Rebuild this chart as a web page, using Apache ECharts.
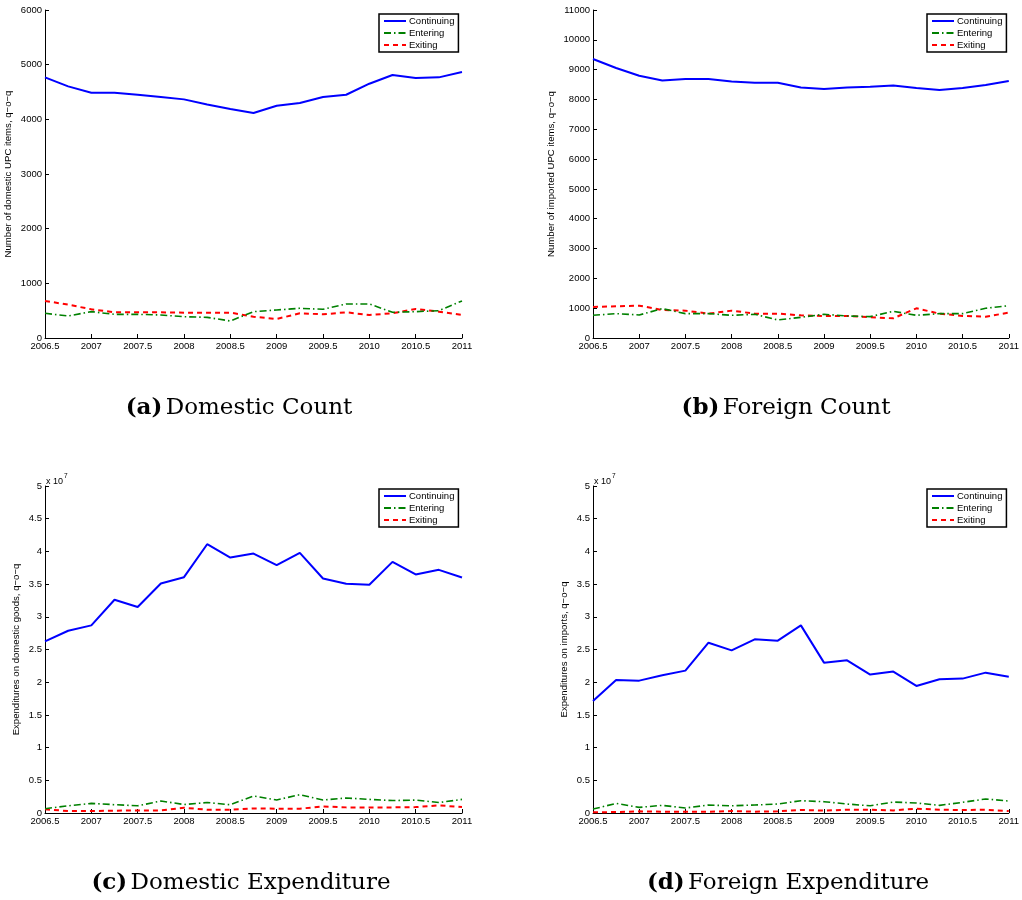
<!DOCTYPE html>
<html>
<head>
<meta charset="utf-8">
<script src="https://cdn.jsdelivr.net/npm/echarts@6/dist/echarts.min.js"></script>
<style>html,body{margin:0;padding:0;background:#fff;}#c{width:1022px;height:900px;}</style>
</head>
<body>
<div id="c"></div>
<script>
const quarters = [2006.5, 2006.75, 2007, 2007.25, 2007.5, 2007.75, 2008, 2008.25, 2008.5, 2008.75, 2009, 2009.25, 2009.5, 2009.75, 2010, 2010.25, 2010.5, 2010.75, 2011];
const xTicks = [2006.5, 2007, 2007.5, 2008, 2008.5, 2009, 2009.5, 2010, 2010.5, 2011];
const seriesNames = ['Continuing', 'Entering', 'Exiting'];

// (a) Domestic Count
const domCountContinuing = [4768, 4603, 4487, 4487, 4450, 4408, 4365, 4270, 4190, 4115, 4249, 4298, 4408, 4450, 4652, 4811, 4756, 4768, 4866];
const domCountEntering   = [452, 403, 482, 433, 433, 421, 390, 378, 311, 482, 513, 543, 525, 623, 623, 470, 482, 500, 678];
const domCountExiting    = [678, 610, 525, 470, 470, 470, 464, 464, 464, 390, 348, 452, 433, 470, 421, 452, 531, 482, 421];
const domCountYTicks = [0, 1000, 2000, 3000, 4000, 5000, 6000];

// (b) Foreign Count
const forCountContinuing = [9355, 9053, 8796, 8639, 8684, 8684, 8605, 8561, 8561, 8404, 8348, 8404, 8427, 8471, 8382, 8315, 8382, 8482, 8617];
const forCountEntering   = [761, 817, 772, 985, 817, 817, 761, 795, 604, 694, 795, 739, 716, 895, 761, 817, 817, 996, 1085];
const forCountExiting    = [1041, 1063, 1085, 940, 918, 817, 918, 817, 817, 761, 739, 739, 694, 660, 996, 817, 739, 716, 850];
const forCountYTicks = [0, 1000, 2000, 3000, 4000, 5000, 6000, 7000, 8000, 9000, 10000, 11000];

// (c) Domestic Expenditure (x 10^7)
const domExpContinuing = [2.625, 2.787, 2.869, 3.26, 3.149, 3.51, 3.606, 4.11, 3.906, 3.967, 3.789, 3.977, 3.586, 3.505, 3.489, 3.84, 3.647, 3.718, 3.601];
const domExpEntering   = [0.066, 0.11, 0.147, 0.127, 0.11, 0.183, 0.13, 0.16, 0.127, 0.26, 0.20, 0.28, 0.198, 0.229, 0.208, 0.19, 0.198, 0.16, 0.208];
const domExpExiting    = [0.056, 0.03, 0.03, 0.035, 0.04, 0.04, 0.08, 0.05, 0.05, 0.07, 0.066, 0.066, 0.10, 0.086, 0.086, 0.086, 0.09, 0.117, 0.09];
const expYTicks = [0, 0.5, 1, 1.5, 2, 2.5, 3, 3.5, 4, 4.5, 5];

// (d) Foreign Expenditure (x 10^7)
const forExpContinuing = [1.714, 2.035, 2.024, 2.106, 2.177, 2.604, 2.487, 2.655, 2.635, 2.869, 2.299, 2.335, 2.116, 2.162, 1.943, 2.045, 2.055, 2.146, 2.085];
const forExpEntering   = [0.06, 0.147, 0.086, 0.117, 0.076, 0.122, 0.11, 0.122, 0.137, 0.188, 0.173, 0.137, 0.11, 0.168, 0.153, 0.117, 0.163, 0.214, 0.183];
const forExpExiting    = [0.01, 0.015, 0.025, 0.02, 0.02, 0.02, 0.03, 0.02, 0.025, 0.046, 0.036, 0.05, 0.05, 0.04, 0.066, 0.05, 0.046, 0.05, 0.03];

const captionLetters = ['(a)', '(b)', '(c)', '(d)'];
const captionTexts = ['Domestic Count', 'Foreign Count', 'Domestic Expenditure', 'Foreign Expenditure'];

const panels = [
  {left: 45, top: 10, height: 328, yName: 'Number of domestic UPC items, q\u2212o\u2212q', nameGap: 32, ticks: domCountYTicks, data: [domCountContinuing, domCountEntering, domCountExiting], legendTop: 14, capX: 239, capY: 408},
  {left: 593, top: 10, height: 328, yName: 'Number of imported UPC items, q\u2212o\u2212q', nameGap: 37, ticks: forCountYTicks, data: [forCountContinuing, forCountEntering, forCountExiting], legendTop: 14, capX: 786, capY: 408},
  {left: 45, top: 486, height: 327, yName: 'Expenditures on domestic goods, q\u2212o\u2212q', nameGap: 24, ticks: expYTicks, data: [domExpContinuing, domExpEntering, domExpExiting], legendTop: 489, capX: 241, capY: 883},
  {left: 593, top: 486, height: 327, yName: 'Expenditures on imports, q\u2212o\u2212q', nameGap: 24, ticks: expYTicks, data: [forExpContinuing, forExpEntering, forExpExiting], legendTop: 489, capX: 788, capY: 883}
];

const styles = [
  {color: '#0000ff', width: 2, type: 'solid'},
  {color: '#008000', width: 1.6, type: [7, 3, 1.5, 3]},
  {color: '#ff0000', width: 2, type: [5, 4]}
];

const FONT = 'Liberation Sans';
const plain = v => String(v);
const grid = [], xAxis = [], yAxis = [], series = [], legend = [], graphic = [];
panels.forEach((p, i) => {
  grid.push({left: p.left, top: p.top, width: 417, height: p.height, containLabel: false});
  xAxis.push({
    type: 'value', gridIndex: i, min: xTicks[0], max: xTicks[xTicks.length - 1], interval: 0.5,
    axisLine: {lineStyle: {color: '#000', width: 1}},
    axisTick: {inside: true, length: 4, lineStyle: {color: '#000'}},
    axisLabel: {color: '#000', fontSize: 9.5, fontFamily: FONT, margin: 3, formatter: plain},
    splitLine: {show: false}
  });
  yAxis.push({
    type: 'value', gridIndex: i, min: p.ticks[0], max: p.ticks[p.ticks.length - 1],
    interval: p.ticks[1] - p.ticks[0],
    name: p.yName, nameLocation: 'middle', nameGap: p.nameGap, nameRotate: 90,
    nameTextStyle: {color: '#000', fontSize: 9.6, fontFamily: FONT},
    axisLine: {show: true, lineStyle: {color: '#000', width: 1}},
    axisTick: {show: true, inside: true, length: 4, lineStyle: {color: '#000'}},
    axisLabel: {color: '#000', fontSize: 9.5, fontFamily: FONT, margin: 3, formatter: plain},
    splitLine: {show: false}
  });
  seriesNames.forEach((n, k) => {
    series.push({
      name: n, type: 'line', xAxisIndex: i, yAxisIndex: i, symbol: 'none', showSymbol: false,
      data: quarters.map((q, j) => [q, p.data[k][j]]),
      lineStyle: styles[k], itemStyle: {color: styles[k].color},
      z: 3 - k, animation: false
    });
  });
  legend.push({
    data: seriesNames, orient: 'vertical', left: p.left + 334, top: p.legendTop,
    itemWidth: 22, itemHeight: 8, itemGap: 2, padding: [2, 4, 2, 4],
    borderColor: '#000', borderWidth: 1.5, backgroundColor: '#fff',
    itemStyle: {opacity: 0},
    textStyle: {color: '#000', fontSize: 9.5, fontFamily: FONT, padding: [0, 0, 0, -2]},
    selectedMode: false
  });
  graphic.push({
    type: 'text', x: p.capX, y: p.capY,
    style: {
      text: '{b|' + captionLetters[i] + '} {r|' + captionTexts[i] + '}', align: 'center', verticalAlign: 'middle',
      rich: {
        b: {fontFamily: 'DejaVu Serif', fontWeight: 'bold', fontSize: 23, fill: '#000'},
        r: {fontFamily: 'DejaVu Serif', fontSize: 23, fill: '#000'}
      }
    }
  });
});

[45, 593].forEach(x => {
  graphic.push({
    type: 'text', x: x + 1, y: 473,
    style: {
      text: '{m|x 10}{s|7}',
      rich: {
        m: {fontFamily: FONT, fontSize: 9, fill: '#000', verticalAlign: 'bottom', padding: [4, 0, 0, 0]},
        s: {fontFamily: FONT, fontSize: 6.5, fill: '#000', verticalAlign: 'top', padding: [0, 0, 6, 1]}
      }
    }
  });
});

const chart = echarts.init(document.getElementById('c'), null, {renderer: 'canvas'});
chart.setOption({animation: false, backgroundColor: '#fff', grid, xAxis, yAxis, series, legend, graphic});
</script>
</body>
</html>
